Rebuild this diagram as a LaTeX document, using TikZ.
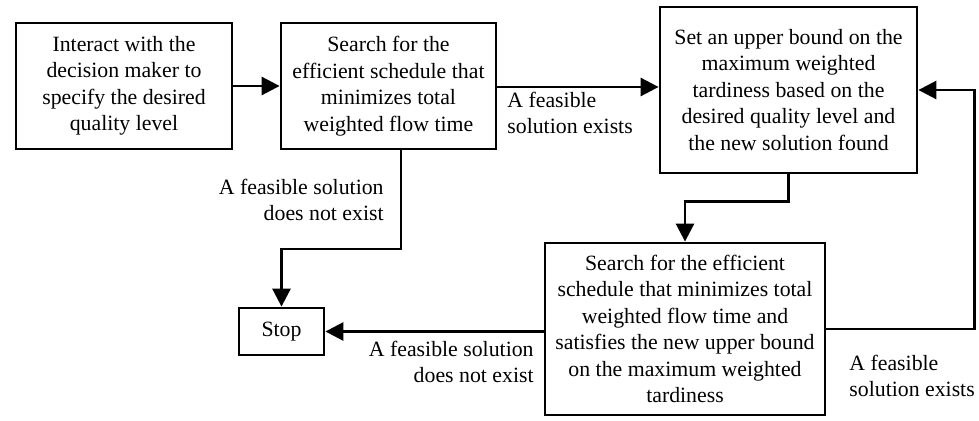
\documentclass[tikz,border=0pt]{standalone}
\usepackage{fontspec}
\setmainfont{Liberation Serif}
\usetikzlibrary{arrows.meta,calc}
\tikzset{
  box/.style={draw, line width=1.4pt, align=center, inner sep=0pt, font=\fontsize{10.9}{13.25}\selectfont},
  conn/.style={line width=1.4pt},
  arr/.style={conn, -{Triangle[length=9pt,width=9pt]}},
  lbl/.style={font=\fontsize{10.9}{13.25}\selectfont, inner sep=0pt},
}
\begin{document}
\begin{tikzpicture}[x=0.5pt,y=-0.5pt]
\useasboundingbox (0,0) rectangle (979,421);
\node[box, minimum width=108pt, minimum height=63pt] (b1) at (124,86)
  {Interact with the\\decision maker to\\specify the desired\\quality level};
\node[box, minimum width=107.5pt, minimum height=63pt] (b2) at (388.5,86)
  {Search for the\\efficient schedule that\\minimizes total\\weighted flow time};
\node[box, minimum width=128.5pt, minimum height=83pt] (b3) at (788.5,90)
  {Set an upper bound on the\\maximum weighted\\tardiness based on the\\desired quality level and\\the new solution found};
\node[box, minimum width=140pt, minimum height=86pt] (b4) at (685,329)
  {Search for the efficient\\schedule that minimizes total\\weighted flow time and\\satisfies the new upper bound\\on the maximum weighted\\tardiness};
\node[box, minimum width=42.5pt, minimum height=23.5pt] (stop) at (281.5,331.5) {Stop};

\draw[arr] (b1) -- (b2);
\draw[arr] ([yshift=-0.5pt]b2.east) -- ([yshift=-0.5pt]b2.east -| b3.west);
\coordinate (k1) at (401,249);
\draw[arr] ([xshift=6.25pt]b2.south) -- (k1) -| (stop.north);
\draw[arr] (b3.south) -- ++(0,27) -| (b4.north);
\draw[arr] (b4.west |- stop.east) -- (stop.east);
\draw[arr] (b4.east) -- ++(148,0) |- (b3.east);

\node[lbl, anchor=west, align=left] (l1) at (507,113) {A feasible\\solution exists};
\node[lbl, anchor=east, align=right] (l2) at (384,200) {A feasible solution\\does not exist};
\node[lbl, anchor=east, align=right] (l3) at (534,362) {A feasible solution\\does not exist};
\node[lbl, anchor=west, align=left] (l4) at (849,376) {A feasible\\solution exists};
\end{tikzpicture}
\end{document}
